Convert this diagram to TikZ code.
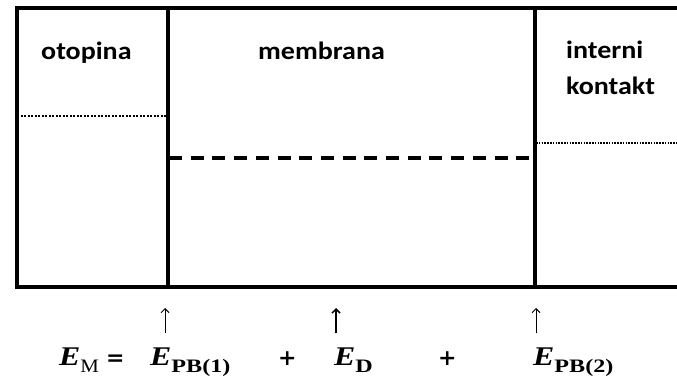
\documentclass[tikz,border=0pt]{standalone}
\usepackage{fontspec}
\usepackage{graphicx}
\setmainfont{Liberation Serif}
\newfontfamily\lblfont{Carlito}
\newfontfamily\opfont{DejaVu Serif}
\usetikzlibrary{arrows.meta}
\tikzset{
  wall/.style={line width=3.2pt, line cap=rect},
  lbl/.style={anchor=base west, inner sep=0pt, font=\lblfont\bfseries\fontsize{25}{29}\selectfont},
  eq/.style={anchor=base west, inner sep=0pt, font=\fontsize{27}{32}\selectfont},
  op/.style={anchor=base west, inner sep=0pt, font=\opfont\bfseries\fontsize{22}{26}\selectfont},
  arr/.style={line width=0.9pt, -{Straight Barb[length=4pt,width=8pt]}},
  dotline/.style={line width=2.3pt, dash pattern=on 2pt off 1.5pt},
  dashline/.style={line width=3.2pt, dash pattern=on 13pt off 8.7pt}
}
\newcommand{\Esym}{\scalebox{1.18}[1]{\textbf{\textit{E}}}}
\newcommand{\subb}[1]{\raisebox{-7pt}{\scalebox{1.27}[1]{\fontsize{19}{19}\selectfont\textbf{#1}}}}
\newcommand{\subr}[1]{\raisebox{-7pt}{\scalebox{1.1}[1]{\fontsize{19}{19}\selectfont #1}}}
\begin{document}
\begin{tikzpicture}[x=1pt,y=1pt]
\useasboundingbox (0,0) rectangle (677,383);
% walls
\draw[wall] (677,375) -- (17,375) -- (17,96) -- (677,96);
\draw[wall] (168,375) -- (168,96);
\draw[wall] (535,375) -- (535,96);
% interior lines
\draw[dotline] (17,267) -- (167,267);
\draw[dashline] (169,225) -- (535,225);
\draw[dotline, dash pattern=on 1.6pt off 1.2pt] (536,240) -- (677,240);
% labels
\node[lbl] (otopina) at (41,323) {\scalebox{1.12}[1]{otopina}};
\node[lbl] (membrana) at (258,323) {\scalebox{1.12}[1]{membrana}};
\node[lbl] (interni) at (566,324) {\scalebox{1.12}[1]{interni}};
\node[lbl] (kontakt) at (566,288) {\scalebox{1.12}[1]{kontakt}};
% equation
\node[eq] (em) at (59,18) {\Esym\subr{M}};
\node[op] (eqs) at (106,18) {=};
\node[eq] (epb1) at (150,18) {\Esym\subb{PB(1)}};
\node[op] (plus1) at (278,18) {+};
\node[eq] (ed) at (334,18) {\Esym\subb{D}};
\node[op] (plus2) at (438,18) {+};
\node[eq] (epb2) at (533,18) {\Esym\subb{PB(2)}};
% arrows
\coordinate (a1s) at (165,50); \coordinate (a1e) at (165,75);
\coordinate (a2s) at (336,50); \coordinate (a2e) at (336,75);
\coordinate (a3s) at (536,50); \coordinate (a3e) at (536,75);
\draw[arr] (a1s) -- (a1e);
\draw[arr, line width=1.5pt] (a2s) -- (a2e);
\draw[arr] (a3s) -- (a3e);
\end{tikzpicture}
\end{document}
